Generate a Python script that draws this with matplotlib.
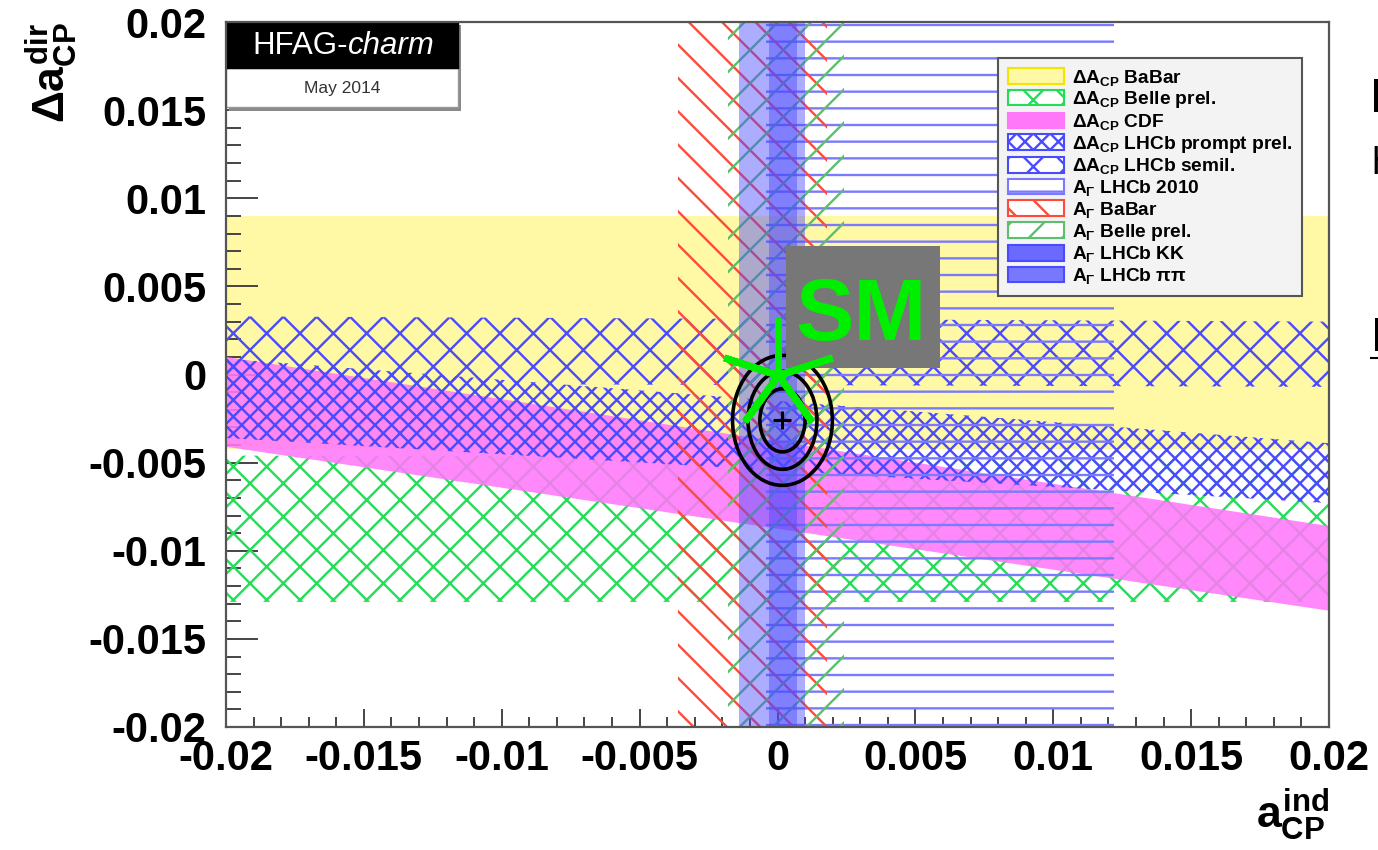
import matplotlib
matplotlib.use("Agg")
import matplotlib.pyplot as plt
from matplotlib.patches import Ellipse, Rectangle, Patch
from matplotlib.lines import Line2D

# a_CP^ind range spanned by the Delta A_CP bands
a_ind_ends = [-0.02, 0.02]

# Delta A_CP bands: lower / upper Delta a_CP^dir edge at the two a_ind ends
dacp_babar_lo = [-0.0042, -0.0042]
dacp_babar_hi = [0.0090, 0.0090]
dacp_belle_lo = [-0.0129, -0.0129]
dacp_belle_hi = [-0.0046, -0.0047]
dacp_cdf_lo = [-0.0041, -0.0134]
dacp_cdf_hi = [0.0010, -0.0086]
dacp_prompt_lo = [-0.0036, -0.0073]
dacp_prompt_hi = [0.0009, -0.0039]
dacp_semil_lo = [-0.0005, -0.0007]
dacp_semil_hi = [0.0033, 0.0030]

# A_Gamma bands: allowed a_CP^ind interval
ag_lhcb2010 = [-0.0004, 0.0122]
ag_babar = [-0.0036, 0.0018]
ag_belle = [-0.0018, 0.0024]
ag_lhcb_kk = [-0.0003, 0.0010]
ag_lhcb_pipi = [-0.0014, 0.0007]

# combined fit: central value and 1/2/3 sigma half axes
fit_center = [0.00018, -0.0026]
fit_half_x = [0.00082, 0.00125, 0.00181]
fit_half_y = [0.00179, 0.00278, 0.00369]

sm_point = [0.0, 0.0]

tick_values = [-0.02, -0.015, -0.01, -0.005, 0.0, 0.005, 0.01, 0.015, 0.02]
tick_labels = ['-0.02', '-0.015', '-0.01', '-0.005', '0', '0.005', '0.01', '0.015', '0.02']

legend_labels = [
    r'$\Delta A_{CP}$ BaBar',
    r'$\Delta A_{CP}$ Belle prel.',
    r'$\Delta A_{CP}$ CDF',
    r'$\Delta A_{CP}$ LHCb prompt prel.',
    r'$\Delta A_{CP}$ LHCb semil.',
    r'$A_{\Gamma}$ LHCb 2010',
    r'$A_{\Gamma}$ BaBar',
    r'$A_{\Gamma}$ Belle prel.',
    r'$A_{\Gamma}$ LHCb KK',
    r'$A_{\Gamma}$ LHCb $\pi\pi$',
]

plt.rcParams['font.family'] = ['Liberation Sans', 'DejaVu Sans']
plt.rcParams['font.weight'] = 'bold'
plt.rcParams['mathtext.fontset'] = 'custom'
plt.rcParams['mathtext.rm'] = 'Liberation Sans:bold'
plt.rcParams['mathtext.it'] = 'Liberation Sans:bold'
plt.rcParams['mathtext.bf'] = 'Liberation Sans:bold'
plt.rcParams['mathtext.sf'] = 'Liberation Sans:bold'
plt.rcParams['hatch.linewidth'] = 1.7

yellow = '#fff8a4'
yellow_edge = '#f5e400'
green_dacp = '#22dd55'
green_ag = '#5cbf6c'
pink = '#ff78fa'
blue = '#4a4aff'
blue_lines = '#7a7aff'
red = '#ff4a3a'

fig = plt.figure(figsize=(13.78, 8.5), dpi=100)
ax = fig.add_axes([226 / 1378, 123 / 850, 1103 / 1378, 705 / 850])
ax.set_xlim(-0.02, 0.02)
ax.set_ylim(-0.02, 0.02)

# Delta A_CP bands
ax.fill_between(a_ind_ends, dacp_babar_lo, dacp_babar_hi, facecolor=yellow, linewidth=0, zorder=1)
ax.fill_between(a_ind_ends, dacp_belle_lo, dacp_belle_hi, facecolor='none', edgecolor=green_dacp,
                hatch='x', linewidth=0, zorder=2)
ax.fill_between(a_ind_ends, dacp_cdf_lo, dacp_cdf_hi, facecolor=pink, alpha=0.88, linewidth=0, zorder=3)
ax.fill_between(a_ind_ends, dacp_semil_lo, dacp_semil_hi, facecolor='none', edgecolor=blue,
                hatch='x', linewidth=0, zorder=4)
ax.fill_between(a_ind_ends, dacp_prompt_lo, dacp_prompt_hi, facecolor='none', edgecolor=blue,
                hatch='xx', linewidth=0, zorder=4)

# A_Gamma bands
ax.axvspan(ag_lhcb2010[0], ag_lhcb2010[1], facecolor='none', edgecolor=blue_lines, hatch='-',
           linewidth=0, zorder=5)
ax.axvspan(ag_babar[0], ag_babar[1], facecolor='none', edgecolor=red, hatch='\\', linewidth=0, zorder=5)
ax.axvspan(ag_belle[0], ag_belle[1], facecolor='none', edgecolor=green_ag, hatch='/', linewidth=0, zorder=5)
ax.axvspan(ag_lhcb_pipi[0], ag_lhcb_pipi[1], facecolor=blue, alpha=0.45, linewidth=0, zorder=6)
ax.axvspan(ag_lhcb_kk[0], ag_lhcb_kk[1], facecolor=blue, alpha=0.45, linewidth=0, zorder=6)

# fit contours
for hx, hy in zip(fit_half_x, fit_half_y):
    ax.add_patch(Ellipse(fit_center, 2 * hx, 2 * hy, fill=False, edgecolor='black', linewidth=2.6, zorder=8))
ax.plot(fit_center[0], fit_center[1], marker='+', ms=13, mew=2.2, color='black', zorder=8)

# SM label and point
ax.add_patch(Rectangle((0.5077, 0.509), 0.1397, 0.173, transform=ax.transAxes,
                       facecolor='#777777', edgecolor='none', zorder=9))
ax.text(0.5757, 0.549, 'SM', transform=ax.transAxes, ha='center', va='baseline',
        fontsize=63, fontweight='bold', color='#00ee00', zorder=10)
ax.plot(sm_point[0], sm_point[1], marker=(5, 2, 0), ms=82, mew=5, color='#00ee00', zorder=11, clip_on=False)

# HFAG tag
ax.add_patch(Rectangle((0.003, 0.874), 0.21, 0.122, transform=ax.transAxes,
                       facecolor='#8a8a8a', edgecolor='none', zorder=12, clip_on=False))
ax.add_patch(Rectangle((0.0, 0.879), 0.21, 0.056, transform=ax.transAxes,
                       facecolor='white', edgecolor='#999999', linewidth=1, zorder=13, clip_on=False))
ax.add_patch(Rectangle((0.0, 0.935), 0.21, 0.065, transform=ax.transAxes,
                       facecolor='black', edgecolor='black', linewidth=1, zorder=13, clip_on=False))
ax.text(0.1106, 0.966, 'HFAG-', transform=ax.transAxes, ha='right', va='center',
        fontsize=22.5, fontweight='normal', color='white', zorder=14)
ax.text(0.1106, 0.966, 'charm', transform=ax.transAxes, ha='left', va='center',
        fontsize=22.5, fontweight='normal', fontstyle='italic', color='white', zorder=14)
ax.text(0.105, 0.906, 'May 2014', transform=ax.transAxes, ha='center', va='center',
        fontsize=12.5, fontweight='normal', color='#333333', zorder=14)

# legend
handles = [
    Patch(facecolor=yellow, edgecolor=yellow_edge, linewidth=1.5),
    Patch(facecolor='white', edgecolor=green_dacp, hatch='x', linewidth=1.5),
    Patch(facecolor=pink, edgecolor=pink, linewidth=1.5),
    Patch(facecolor='white', edgecolor=blue, hatch='xx', linewidth=1.5),
    Patch(facecolor='white', edgecolor=blue, hatch='x', linewidth=1.5),
    Patch(facecolor='white', edgecolor=blue_lines, hatch='-', linewidth=1.5),
    Patch(facecolor='white', edgecolor=red, hatch='\\', linewidth=1.5),
    Patch(facecolor='white', edgecolor=green_ag, hatch='/', linewidth=1.5),
    Patch(facecolor='#6a6aff', edgecolor=blue, linewidth=1.5),
    Patch(facecolor='#7878ff', edgecolor=blue, linewidth=1.5),
]
leg = ax.legend(handles, legend_labels, loc='upper left', bbox_to_anchor=(0.700, 0.949),
                borderaxespad=0, prop={'size': 13.8, 'weight': 'bold'}, handlelength=2.95,
                handleheight=0.88, handletextpad=0.42, labelspacing=0.09, borderpad=0.5,
                fancybox=False, framealpha=1, facecolor='#f3f3f3', edgecolor='#555555')
leg.get_frame().set_linewidth(1.5)
leg.set_zorder(15)

# axes
ax.set_xticks(tick_values)
ax.set_xticklabels(tick_labels)
ax.set_yticks(tick_values)
ax.set_yticklabels(tick_labels)
ax.set_xticks([v / 1000 for v in range(-20, 21)], minor=True)
ax.set_yticks([v / 1000 for v in range(-20, 21)], minor=True)
ax.tick_params(which='both', direction='in', top=False, right=False, color='#444444', width=1.4)
ax.tick_params(axis='x', which='major', length=13, labelsize=30, pad=9)
ax.tick_params(axis='x', which='minor', length=7)
ax.tick_params(axis='y', which='major', length=23, labelsize=30, pad=14)
ax.tick_params(axis='y', which='minor', length=11)
for sp in ax.spines.values():
    sp.set_linewidth(1.6)
    sp.set_color('#555555')
    sp.set_zorder(16)

ax.set_xlabel(r'$a^{ind}_{CP}$', fontsize=32, loc='right')
ax.xaxis.set_label_coords(1.0, -0.085)
ax.set_ylabel(r'$\Delta a^{dir}_{CP}$', fontsize=32, loc='top')
ax.yaxis.set_label_coords(-0.132, 1.0)

# neighbouring text cut off at the right edge
fig.text(1370 / 1378, 1 - 100 / 850, 'D', fontsize=35, fontweight='normal', ha='left', va='center')
fig.text(1371 / 1378, 1 - 164 / 850, 'h', fontsize=27, fontweight='normal', ha='left', va='center')
fig.text(1371 / 1378, 1 - 338 / 850, 'L', fontsize=35, fontweight='normal', ha='left', va='center')
fig.add_artist(Line2D([1371 / 1378, 1.0], [1 - 358 / 850] * 2, transform=fig.transFigure,
                      color='black', linewidth=1.5))

fig.savefig('out.png', dpi=100)
